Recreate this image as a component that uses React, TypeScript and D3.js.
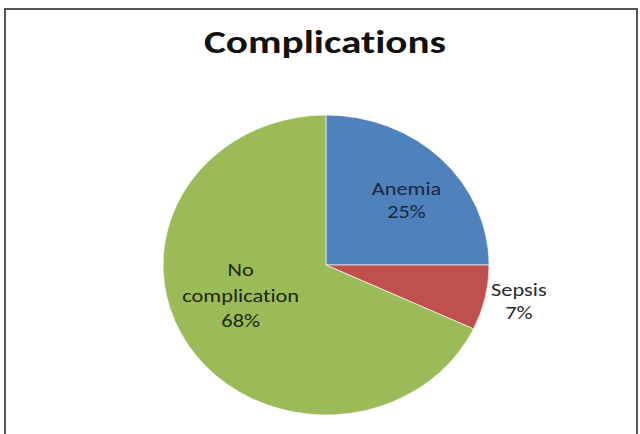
import React from "react";
import * as d3 from "d3";

const categories = ["Anemia", "Sepsis", "No complication"];
const values = [25, 7, 68];
const labelLines = [["Anemia", "25%"], ["Sepsis", "7%"], ["No", "complication", "68%"]];
const colors = ["#4F81BD", "#C0504D", "#9BBB59"];
const titleText = "Complications";

const W = 640;
const H = 434;
const cx = 326;
const cy = 265;
const rx = 163;
const ry = 150;

export default function App() {
  const pie = d3.pie<number>().sort(null).value((d) => d);
  const arcs = pie(values);
  const arc = d3.arc<d3.PieArcDatum<number>>().innerRadius(0).outerRadius(1);
  // label placement tuning (layout, not data)
  const labelRadius = [0.62, 1.2, 0.62];
  const labelDx = [9, 2, 0];
  const labelDy = [1, -3, -19];
  const lineH = [23, 23, 25.5];
  const stretch = 1.21;
  const font = "Carlito, Calibri, 'Open Sans', sans-serif";
  const textColor = ["#1c2640", "#2a2a2a", "#1f2614"];
  return (
    <svg width={W} height={H} style={{ position: "absolute", left: 0, top: 0, display: "block", background: "#fff" }}>
      <rect x={5} y={9} width={632} height={440} fill="#fff" stroke="#555" strokeWidth={2} />
      <g transform={`translate(325,53) scale(1.25,1)`}>
        <text x={0} y={0} textAnchor="middle" fontFamily={font} fontWeight="bold" fontSize={33} fill="#111" style={{ fontVariantLigatures: "none" }}>
          {titleText}
        </text>
      </g>
      <g transform={`translate(${cx},${cy}) scale(${rx},${ry})`}>
        {arcs.map((a, i) => (
          <path key={categories[i]} d={arc(a) || ""} fill={colors[i]} stroke="#fff" strokeWidth={0.004} />
        ))}
      </g>
      {arcs.map((a, i) => {
        const mid = (a.startAngle + a.endAngle) / 2;
        const px = cx + Math.sin(mid) * labelRadius[i] * rx + labelDx[i];
        const py = cy - Math.cos(mid) * labelRadius[i] * ry + labelDy[i];
        const lines = labelLines[i];
        const lh = lineH[i];
        return (
          <g key={"l" + i} transform={`translate(${px},0) scale(${stretch},1)`}>
            <text textAnchor="middle" fontFamily={font} fontSize={18.5} fill={textColor[i]} style={{ fontVariantLigatures: "none" }}>
              {lines.map((t, j) => (
                <tspan key={j} x={0} y={py + 6 + (j - (lines.length - 1) / 2) * lh}>
                  {t}
                </tspan>
              ))}
            </text>
          </g>
        );
      })}
    </svg>
  );
}
